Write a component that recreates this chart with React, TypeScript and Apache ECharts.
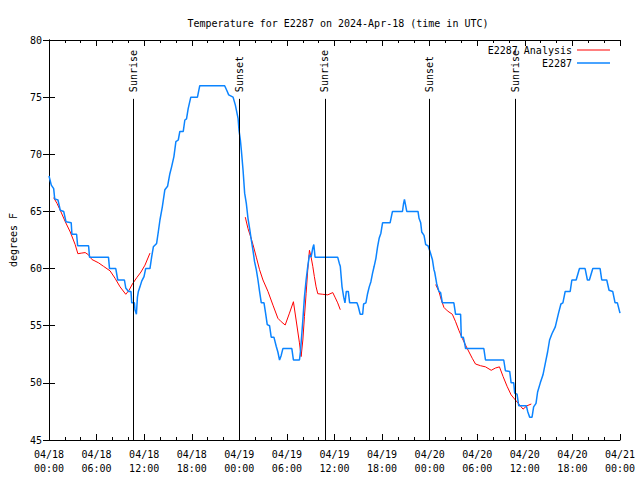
import React, { useEffect, useRef } from "react";
import * as echarts from "echarts";

const titleText = "Temperature for E2287 on 2024-Apr-18 (time in UTC)";
const yAxisName = "degrees F";
const xTickLabels = [
  "04/18\n00:00", "04/18\n06:00", "04/18\n12:00", "04/18\n18:00",
  "04/19\n00:00", "04/19\n06:00", "04/19\n12:00", "04/19\n18:00",
  "04/20\n00:00", "04/20\n06:00", "04/20\n12:00", "04/20\n18:00",
  "04/21\n00:00",
];

// hours since 2024-04-18 00:00 UTC
const obsHours = [
  0.0, 0.29, 0.59, 0.72, 1.13, 1.42, 1.85, 2.14, 2.8, 2.89, 3.48, 3.61, 4.99, 5.11, 7.5, 7.63,
  8.42, 8.67, 9.51, 9.68, 10.02, 10.34, 10.43, 10.77, 10.84, 11.02, 11.15, 11.27, 11.47, 11.69,
  11.98, 12.19, 12.73, 12.94, 13.16, 13.57, 13.78, 13.99, 14.29, 14.61, 14.95, 15.24, 15.46,
  15.75, 16.0, 16.3, 16.5, 16.93, 17.13, 17.34, 17.55, 17.88, 18.72, 19.01, 22.15, 22.41, 22.66,
  23.21, 23.5, 23.84, 23.96, 24.13, 24.25, 24.47, 24.67, 24.88, 25.09, 25.3, 25.51, 25.72, 25.92,
  26.14, 26.35, 26.55, 26.77, 27.11, 27.31, 27.52, 27.81, 28.02, 28.36, 28.65, 28.86, 29.07,
  29.28, 29.49, 30.62, 30.82, 31.58, 31.7, 31.88, 32.04, 32.21, 32.42, 32.63, 32.84, 33.05, 33.26,
  33.39, 33.55, 36.4, 36.61, 36.73, 36.95, 37.16, 37.32, 37.49, 37.74, 37.91, 38.83, 38.99, 39.24,
  39.55, 39.67, 39.96, 40.17, 40.38, 40.59, 40.8, 41.0, 41.22, 41.43, 41.63, 41.85, 42.06, 43.01,
  43.31, 44.57, 44.7, 44.82, 44.95, 45.11, 46.53, 46.66, 46.87, 47.0, 47.29, 47.5, 47.79, 48.04,
  48.34, 48.54, 48.63, 48.88, 49.17, 49.38, 49.6, 51.05, 51.27, 51.9, 51.99, 52.24, 52.4, 52.53,
  54.83, 55.04, 57.34, 57.55, 58.09, 58.27, 58.6, 58.72, 59.02, 59.23, 60.19, 60.36, 60.61, 60.91,
  61.11, 61.41, 61.61, 61.95, 62.29, 62.58, 62.87, 63.12, 63.42, 63.84, 64.25, 64.55, 64.8, 65.09,
  65.72, 65.93, 66.47, 66.89, 67.6, 67.89, 68.14, 68.57, 69.49, 69.7, 70.33, 70.62, 71.08, 71.38,
  71.67, 72.0,
];
const obsTemps = [
  68.1, 67.3, 67.0, 66.1, 66.0, 65.1, 65.0, 64.1, 64.0, 63.0, 63.0, 62.0, 62.0, 61.0, 61.0, 60.0,
  60.0, 59.0, 59.0, 58.3, 58.0, 58.0, 57.0, 57.0, 56.4, 56.0, 57.5, 58.0, 58.4, 58.9,
  59.3, 60.0, 60.0, 61.0, 61.9, 62.2, 63.2, 64.25, 65.4, 66.9, 67.2, 68.3, 68.9,
  69.8, 71.1, 71.25, 72.0, 72.0, 73.0, 73.1, 74.0, 75.0, 75.0, 76.0, 76.0, 75.6, 75.2,
  75.0, 74.3, 73.15, 72.1, 71.25, 70.4, 68.6, 66.6, 65.7, 64.4, 63.5, 62.5, 61.6, 60.6,
  59.9, 59.0, 58.0, 57.0, 57.0, 56.1, 55.1, 55.0, 54.0, 54.0, 53.2, 52.7, 52.0,
  52.4, 53.0, 53.0, 52.0, 52.0, 52.7, 54.3, 55.8, 57.5, 59.0, 60.2, 61.2, 61.0, 61.8,
  62.1, 61.0, 61.0, 60.45, 60.2, 58.4, 57.5, 57.0, 58.0, 58.0, 57.0, 57.0, 56.7, 56.0,
  56.0, 56.9, 57.0, 57.8, 58.4, 58.85, 59.6, 60.2, 60.9, 61.9, 62.65, 63.1, 64.0, 64.0,
  65.0, 65.0, 65.65, 66.05, 65.6, 65.0, 65.0, 64.4, 64.0, 63.2, 62.9, 62.1, 62.0, 61.5,
  60.8, 59.9, 59.7, 58.7, 58.0, 57.9, 57.0, 57.0, 56.0, 56.0, 54.0, 54.0, 53.5, 53.0,
  53.0, 52.0, 52.0, 51.06, 51.0, 50.0, 50.0, 49.1, 49.0, 48.0, 48.0, 47.5, 47.0, 47.0,
  47.9, 48.2, 49.2, 50.0, 50.7, 51.7, 52.7, 53.75, 54.3, 54.9, 56.1, 56.9, 57.0, 58.0,
  58.0, 59.0, 59.0, 60.0, 60.0, 59.0, 59.0, 60.0, 60.0, 59.0, 59.0, 58.1, 58.0, 57.0,
  57.0, 56.1,
];

// analysis; null marks a gap
const anaHours = [
  0.59, 1.01, 1.42, 2.05, 2.68, 3.3, 3.64, 4.06, 4.56, 4.99, 5.4, 6.25, 6.87, 7.7, 8.33, 8.96,
  9.68, 10.09, 10.52, 11.06, 11.6, 12.1, 12.73, 18.0,
  24.75, 25.09, 25.42, 25.72, 26.14, 26.55, 26.98, 27.61, 28.24, 28.86, 29.28, 29.78, 30.32,
  30.82, 31.16, 31.58, 31.79, 32.01, 32.21, 32.42, 32.63, 32.84, 33.05, 33.26, 33.46, 33.68,
  33.89, 34.52, 35.15, 35.78, 36.06, 36.4, 36.73, 42.0,
  48.76, 49.17, 49.47, 49.8, 50.23, 50.86, 51.27, 51.68, 52.11, 52.74, 53.37, 53.78, 54.41,
  55.04, 55.76, 56.3, 56.8, 57.26, 57.76, 58.27, 58.81, 59.35, 59.77, 60.28, 60.82,
];
const anaTemps = [
  66.2, 65.7, 65.1, 64.1, 63.2, 62.1, 61.3, 61.35, 61.4, 61.2, 60.8, 60.5, 60.2, 59.8, 59.15, 58.4,
  57.75, 58.1, 58.65, 59.2, 59.7, 60.3, 61.35, null,
  64.5, 63.5, 62.8, 62.1, 61.0, 59.9, 59.0, 58.0, 56.8, 55.65, 55.35, 55.06, 56.1,
  57.1, 55.5, 53.5, 52.3, 53.75, 55.8, 57.8, 59.9, 61.6, 61.0, 60.2, 59.3, 58.4,
  57.8, 57.75, 57.7, 57.9, 57.5, 57.0, 56.4, null,
  58.6, 58.0, 57.25, 56.6, 56.3, 56.0, 55.35, 54.6, 53.9, 53.0, 52.15, 51.65, 51.5,
  51.4, 51.1, 51.3, 51.4, 50.55, 49.7, 48.95, 48.5, 48.06, 47.7, 48.0, 48.15,
];

const sunEventNames = ["Sunrise", "Sunset", "Sunrise", "Sunset", "Sunrise"];
const sunEventHours = [10.68, 24.0, 34.8, 48.0, 58.8];

const FONT = "DejaVu Sans Mono";
const RED = "#ff0000";
const BLUE = "#0b84ff";

export default function App() {
  const ref = useRef<HTMLDivElement>(null);
  useEffect(() => {
    const chart = echarts.init(ref.current!, null, { renderer: "svg" });
    const tickCommon = {
      axisLine: { show: true, lineStyle: { color: "#000", width: 1 } },
      axisTick: { show: true, inside: true, length: 6, lineStyle: { color: "#000" } },
      splitLine: { show: false },
    };
    const xCommon = {
      type: "value",
      min: 0,
      max: 72,
      interval: 6,
      ...tickCommon,
      minorTick: { show: true, splitNumber: 3, length: 3, lineStyle: { color: "#000" } },
    };
    const yCommon = { type: "value", min: 45, max: 80, interval: 5, ...tickCommon };

    const lineData: any[] = [];
    sunEventHours.forEach((h, i) => {
      lineData.push([
        { coord: [h, 45], label: { show: false } },
        { coord: [h, 74.85] },
      ]);
      lineData.push([
        {
          coord: [h, 75.0],
          name: sunEventNames[i],
          lineStyle: { color: "rgba(0,0,0,0)", width: 0 },
          label: {
            show: true,
            position: "insideStart",
            formatter: sunEventNames[i],
            color: "#000",
            fontFamily: FONT,
            fontSize: 10,
          },
        },
        { coord: [h, 80] },
      ]);
    });

    const legendText = { fontFamily: FONT, fontSize: 10, color: "#000" };

    chart.setOption({
      animation: false,
      backgroundColor: "#fff",
      title: {
        text: titleText,
        left: 333,
        textAlign: "center",
        top: 13,
        textStyle: { fontFamily: FONT, fontSize: 10, fontWeight: "normal", color: "#000" },
      },
      legend: [
        {
          data: [{ name: "E2287 Analysis", icon: "rect" }],
          right: 30,
          top: 45,
          padding: 0,
          align: "right",
          itemWidth: 33,
          itemHeight: 1.2,
          textStyle: legendText,
        },
        {
          data: [{ name: "E2287", icon: "rect" }],
          right: 30,
          top: 58,
          padding: 0,
          align: "right",
          itemWidth: 33,
          itemHeight: 1.6,
          textStyle: legendText,
        },
      ],
      grid: { left: 45, right: 20, top: 40, bottom: 40, containLabel: false },
      xAxis: [
        {
          ...xCommon,
          position: "bottom",
          axisLabel: {
            show: true,
            margin: 7,
            fontFamily: FONT,
            fontSize: 10,
            color: "#000",
            lineHeight: 14,
            formatter: (v: number) => xTickLabels[Math.round(v / 6)] ?? "",
          },
        },
        { ...xCommon, position: "top", axisLabel: { show: false } },
      ],
      yAxis: [
        {
          ...yCommon,
          position: "left",
          name: yAxisName,
          nameLocation: "middle",
          nameRotate: 90,
          nameGap: 31,
          nameTextStyle: { fontFamily: FONT, fontSize: 10, color: "#000" },
          axisLabel: { show: true, margin: 7, fontFamily: FONT, fontSize: 10, color: "#000" },
        },
        { ...yCommon, position: "right", axisLabel: { show: false } },
      ],
      series: [
        {
          name: "E2287 Analysis",
          type: "line",
          symbol: "none",
          connectNulls: false,
          lineStyle: { color: RED, width: 1 },
          itemStyle: { color: RED },
          data: anaHours.map((h, i) => [h, anaTemps[i] === null ? "-" : anaTemps[i]]),
          z: 2,
        },
        {
          name: "E2287",
          type: "line",
          symbol: "none",
          lineStyle: { color: BLUE, width: 1.5 },
          itemStyle: { color: BLUE },
          data: obsHours.map((h, i) => [h, obsTemps[i]]),
          z: 3,
          markLine: {
            silent: true,
            symbol: ["none", "none"],
            animation: false,
            lineStyle: { color: "#000", width: 1, type: "solid" },
            label: { show: false },
            data: lineData,
          },
        },
      ],
    });
    return () => chart.dispose();
  }, []);
  return (
    <div
      ref={ref}
      style={{ position: "fixed", left: 0, top: 0, width: 640, height: 480, background: "#fff" }}
    />
  );
}
